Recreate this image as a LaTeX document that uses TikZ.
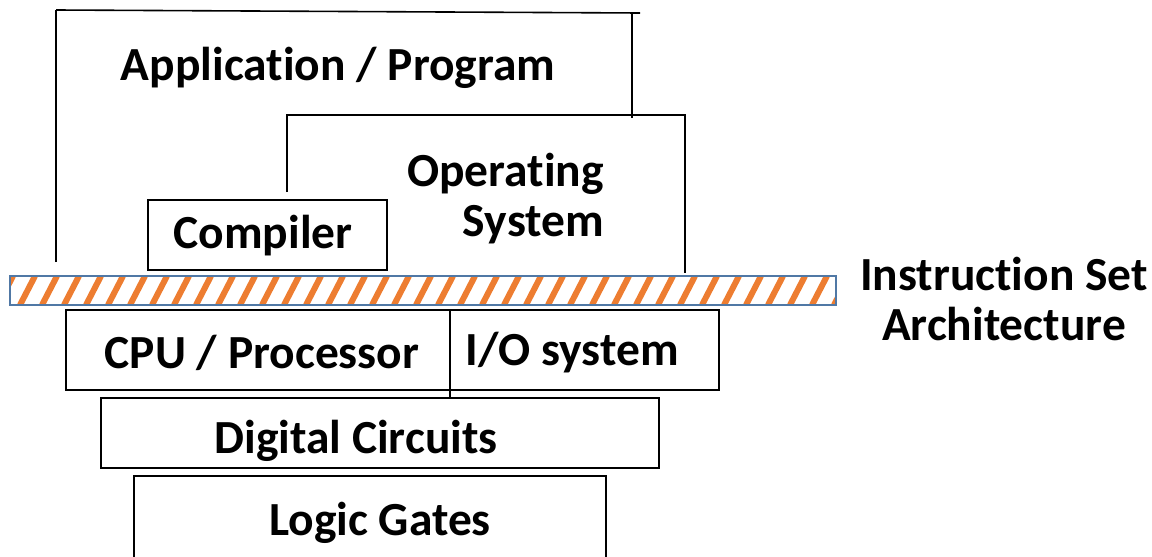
\documentclass[tikz,border=0pt]{standalone}
\usepackage{fontspec}
\setmainfont[Ligatures=NoCommon]{Carlito}
\definecolor{isaorange}{RGB}{237,125,49}
\definecolor{isablue}{RGB}{80,120,165}
\begin{document}
\begin{tikzpicture}[x=1pt,y=-1pt,
  line/.style={line width=1.6pt, black},
  box/.style={draw, line width=1.6pt, inner sep=0pt, outer sep=0pt},
  lbl/.style={font=\bfseries\fontsize{47.5}{50}\selectfont, inner sep=0pt},
  stripe/.style={isaorange, line width=6pt},
  isaborder/.style={draw=isablue, line width=1.8pt}]
\useasboundingbox (0,0) rectangle (1152,557);

% Application / Program (open frame)
\coordinate (appBL) at (56,262);
\coordinate (appTL) at (56,10);
\coordinate (appTR) at (640,13);
\coordinate (appRT) at (632,12);
\coordinate (appRB) at (632,118);
\draw[line] (appBL) -- (appTL);
\draw[line] (appTL) -- (appTR);
\draw[line] (appRT) -- (appRB);
\node[lbl] (apptext) at (338,68) {Application / Program};

% Operating System (open frame)
\coordinate (osBL) at (287,192);
\coordinate (osTL) at (287,115);
\coordinate (osTR) at (685,115);
\coordinate (osBR) at (685,273);
\draw[line] (osBL) -- (osTL) -- (osTR) -- (osBR);
\node[lbl, align=right, anchor=east] (ostext) at (604,199) {Operating\\System};

% Compiler
\node[box, minimum width=239pt, minimum height=70pt] (comp) at (267.5,235) {};
\node[lbl] (comptext) at (263,236) {Compiler};

% ISA bar
\node[isaborder, inner sep=0pt, outer sep=0pt, minimum width=826pt, minimum height=29pt] (isa) at (423,290.5) {};
\begin{scope}
  \clip (isa.south west) rectangle (isa.north east);
  \foreach \k in {0,...,39}
    \draw[stripe] ([xshift=\k*22pt-12pt]isa.south west) -- ++(15,-29);
\end{scope}
\draw[isaborder] (isa.south west) rectangle (isa.north east);
\node[lbl, align=center] (isatext) at (1004,299) {Instruction Set\\Architecture};

% CPU and I/O
\node[box, minimum width=384pt, minimum height=80pt] (cpu) at (258,350) {};
\node[box, minimum width=269pt, minimum height=80pt] (io) at (584.5,350) {};
\node[lbl] (cputext) at (262,353) {CPU / Processor};
\node[lbl] (iotext) at (572,353) {I/O system};

% Digital circuits
\node[box, minimum width=558pt, minimum height=70pt] (dig) at (380,433) {};
\coordinate (divtop) at (450,390);
\coordinate (divbot) at (450,398);
\draw[line] (divtop) -- (divbot);
\node[lbl] (digtext) at (356,441) {Digital Circuits};

% Logic gates (open at bottom)
\coordinate (lgBL) at (134,560);
\coordinate (lgTL) at (134,476);
\coordinate (lgTR) at (606,476);
\coordinate (lgBR) at (606,560);
\draw[line] (lgBL) -- (lgTL) -- (lgTR) -- (lgBR);
\node[lbl] (lgtext) at (380,523) {Logic Gates};
\end{tikzpicture}
\end{document}
